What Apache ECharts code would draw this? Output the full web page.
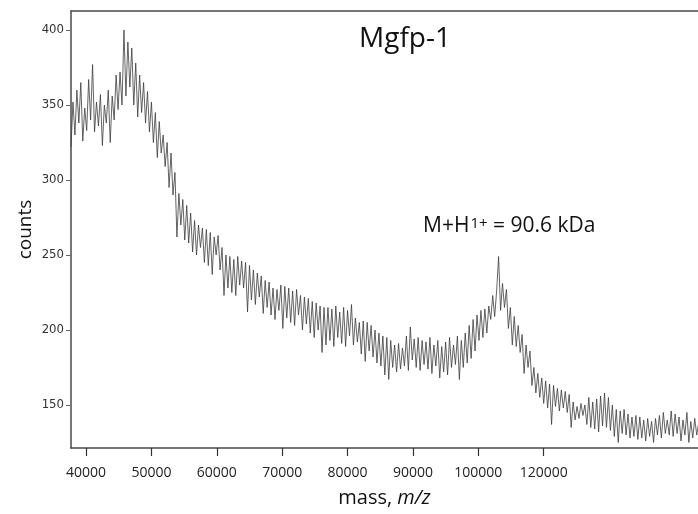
<!DOCTYPE html>
<html>
<head>
<meta charset="utf-8">
<script src="https://cdn.jsdelivr.net/npm/echarts@6/dist/echarts.min.js"></script>
<style>
html,body{margin:0;padding:0;background:#fff;}
#chart{width:698px;height:514px;}
</style>
</head>
<body>
<div id="chart"></div>
<script>
// Sampling of the spectrum (m/z of first sample and spacing between samples)
const massStart = 37700;
const massStep = 300;
// Counts, one per sample
const counts = [
  322, 352, 330, 360, 338, 365, 326, 348, 333, 367,
  340, 377, 332, 352, 336, 357, 323, 350, 338, 360,
  325, 356, 340, 370, 347, 372, 350, 400, 356, 392,
  362, 388, 350, 378, 342, 370, 345, 365, 338, 359,
  332, 352, 325, 345, 315, 339, 318, 330, 309, 325,
  295, 318, 290, 305, 262, 291, 270, 287, 260, 283,
  258, 278, 252, 273, 250, 270, 255, 268, 245, 267,
  243, 265, 237, 262, 250, 263, 240, 255, 223, 250,
  228, 249, 225, 247, 223, 249, 230, 246, 228, 245,
  212, 243, 220, 240, 217, 238, 222, 236, 211, 233,
  215, 232, 210, 228, 207, 227, 213, 230, 201, 229,
  208, 228, 205, 226, 203, 227, 210, 223, 200, 222,
  204, 221, 198, 219, 195, 218, 200, 216, 185, 215,
  190, 215, 193, 214, 189, 216, 195, 212, 191, 215,
  189, 213, 196, 217, 190, 208, 192, 205, 184, 206,
  179, 205, 186, 203, 182, 200, 178, 198, 176, 196,
  170, 195, 167, 193, 175, 190, 172, 191, 174, 188,
  176, 196, 173, 202, 180, 194, 175, 195, 173, 193,
  177, 192, 174, 195, 171, 190, 176, 193, 168, 189,
  172, 192, 170, 195, 175, 190, 177, 196, 167, 193,
  175, 198, 178, 203, 181, 207, 186, 210, 193, 213,
  195, 214, 198, 216, 207, 223, 209, 226, 249, 213,
  231, 215, 227, 201, 215, 190, 209, 189, 203, 185,
  197, 171, 190, 175, 186, 163, 175, 158, 171, 155,
  168, 151, 166, 148, 164, 137, 163, 149, 161, 146,
  160, 148, 159, 145, 157, 135, 152, 140, 149, 141,
  151, 143, 150, 137, 155, 135, 152, 134, 154, 132,
  156, 136, 158, 135, 155, 133, 150, 129, 147, 125,
  146, 131, 147, 130, 144, 128, 142, 129, 143, 127,
  142, 128, 140, 126, 141, 129, 139, 125, 141, 130,
  143, 128, 145, 131, 140, 130, 146, 129, 144, 131,
  142, 126, 140, 130, 145, 125, 139, 128, 141, 130, 138
];
// Tick positions and the labels printed at them
const xTickValues = [40000, 50000, 60000, 70000, 80000, 90000, 100000, 110000];
const xTickLabels = ['40000', '50000', '60000', '70000', '80000', '90000', '100000', '120000'];
const yTickValues = [150, 200, 250, 300, 350, 400];
const yTickLabels = ['150', '200', '250', '300', '350', '400'];
const chartTitle = 'Mgfp-1';
const annotation = 'M+H{s|1+} = 90.6 kDa';

const data = counts.map((c, i) => [massStart + i * massStep, c]);

const chart = echarts.init(document.getElementById('chart'), null, {renderer: 'canvas'});
const axisColor = '#4a4a4a';
const narrow = "'Liberation Sans Narrow', 'DejaVu Sans Condensed', 'Arial Narrow', sans-serif";
const sans = "'Open Sans', 'Noto Sans', sans-serif";

chart.setOption({
  animation: false,
  backgroundColor: '#fff',
  title: [
    {text: chartTitle, left: 354, top: 20,
     textStyle: {fontFamily: sans, fontSize: 28, fontWeight: 'normal', color: '#111'}},
    {text: annotation, left: 418, top: 211,
     textStyle: {fontFamily: sans, fontSize: 21, fontWeight: 'normal', color: '#111',
       rich: {s: {fontFamily: sans, fontSize: 15, color: '#111', verticalAlign: 'top', padding: [0, 0, 0, 1]}}}}
  ],
  grid: {left: 71, right: 0, top: 11, bottom: 66, containLabel: false, outerBoundsMode: 'none'},
  xAxis: [{
    type: 'value', position: 'bottom', min: 37700, max: 133600,
    axisLine: {show: true, onZero: false, lineStyle: {color: axisColor, width: 1.5}},
    axisTick: {show: true, customValues: xTickValues, length: 8, lineStyle: {color: '#333', width: 1.2}},
    axisLabel: {customValues: xTickValues, margin: 18, fontSize: 14, color: '#222', fontFamily: sans,
      formatter: v => xTickLabels[xTickValues.indexOf(v)]},
    splitLine: {show: false},
    name: '{a|mass, }{b|m/z}', nameLocation: 'middle', nameGap: 40,
    nameTextStyle: {rich: {
      a: {fontFamily: sans, fontSize: 20, color: '#111'},
      b: {fontFamily: sans, fontSize: 20, fontStyle: 'italic', color: '#111'}
    }}
  }, {
    type: 'value', position: 'top', min: 37700, max: 133600,
    axisLine: {show: true, onZero: false, lineStyle: {color: axisColor, width: 1.5}},
    axisTick: {show: false}, axisLabel: {show: false}, splitLine: {show: false}
  }],
  yAxis: {
    type: 'value', min: 121.3, max: 412.7,
    axisLine: {show: true, onZero: false, lineStyle: {color: axisColor, width: 1.5}},
    axisTick: {show: true, customValues: yTickValues, length: 5, lineStyle: {color: '#666', width: 1}},
    axisLabel: {customValues: yTickValues, margin: 7, fontSize: 13, color: '#333', fontFamily: narrow,
      formatter: v => yTickLabels[yTickValues.indexOf(v)]},
    splitLine: {show: false},
    name: 'counts', nameLocation: 'middle', nameGap: 36, nameRotate: 90, nameMoveOverlap: false,
    nameTextStyle: {fontFamily: sans, fontSize: 19, color: '#111'}
  },
  series: [{
    type: 'line', xAxisIndex: 0, data: data, showSymbol: false, symbol: 'none',
    lineStyle: {color: '#3c3c3c', width: 0.8}, sampling: null, clip: true
  }]
});
</script>
</body>
</html>
